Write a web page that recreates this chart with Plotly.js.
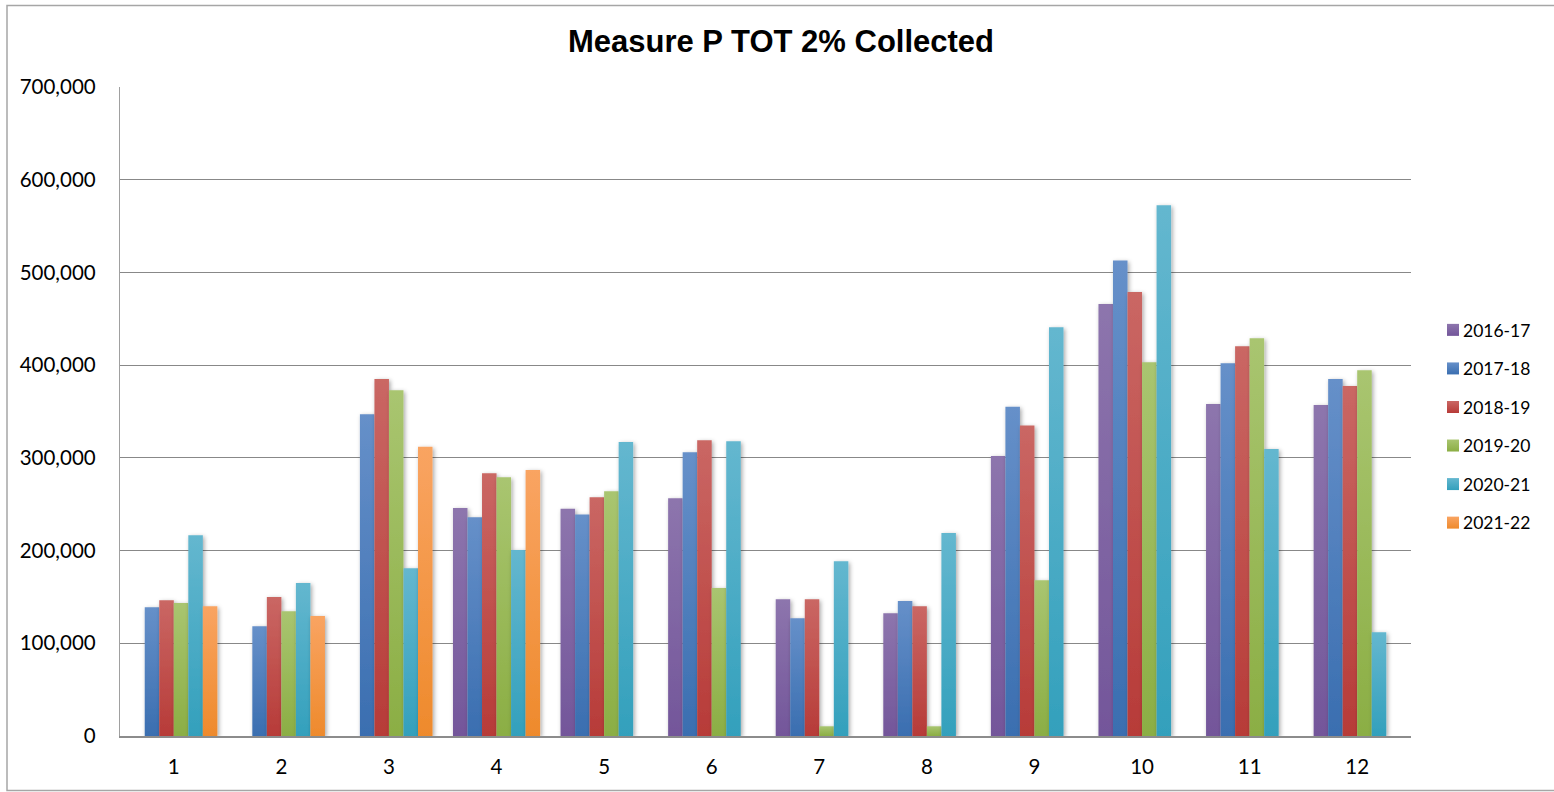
<!DOCTYPE html>
<html>
<head>
<meta charset="utf-8">
<script src="https://cdn.plot.ly/plotly-3.0.1.min.js"></script>
<style>
  html, body { margin: 0; padding: 0; background: #ffffff; }
  #chart { width: 1554px; height: 792px; }
</style>
</head>
<body>
<div id="chart"></div>
<script>
// ---- data ----
const months = ['1', '2', '3', '4', '5', '6', '7', '8', '9', '10', '11', '12'];
const seriesNames = ['2016-17', '2017-18', '2018-19', '2019-20', '2020-21', '2021-22'];
const fy1617 = [null, null, null, 246000, 245000, 256500, 147500, 132500, 302000, 466000, 358000, 357000];
const fy1718 = [139000, 118500, 347000, 236000, 239000, 306000, 127000, 145500, 355000, 513000, 402000, 385000];
const fy1819 = [146500, 150000, 385000, 283500, 257500, 319000, 147500, 140000, 335000, 479000, 420500, 377500];
const fy1920 = [143500, 134500, 373000, 279000, 264000, 159500, 10500, 10500, 168000, 403000, 429000, 394500];
const fy2021 = [216500, 165000, 181000, 200500, 317000, 318000, 188500, 219000, 441000, 572500, 309500, 112000];
const fy2122 = [140000, 129500, 312000, 287000, null, null, null, null, null, null, null, null];
const yTicks = [0, 100000, 200000, 300000, 400000, 500000, 600000, 700000];
const yTickLabels = ['0', '100,000', '200,000', '300,000', '400,000', '500,000', '600,000', '700,000'];

// ---- styles ----
const baseColors = ['#7F62A1', '#4A7EBB', '#C0504D', '#9BBB59', '#45A9C4', '#F6913C'];
const gradTop    = ['#8D75AD', '#6690C9', '#CA6764', '#A9C570', '#64B7CF', '#F9A462'];
const gradBot    = ['#73569A', '#3A6EB0', '#B73B38', '#8BAE44', '#33A0BC', '#EE8A2C'];

const allSeries = [fy1617, fy1718, fy1819, fy1920, fy2021, fy2122];

const traces = allSeries.map((vals, i) => ({
  type: 'bar',
  name: seriesNames[i],
  x: months,
  y: vals,
  legendgroup: 'g' + i,
  marker: { color: baseColors[i], line: { width: 0 } },
  hoverinfo: 'x+y+name'
}));

const L = 120, R = 1411, T = 87, B = 736;
const PW = R - L, PH = B - T;
const tickFont = { family: 'Lato, Carlito, Calibri, sans-serif', size: 20.5, color: '#000000' };

const layout = {
  width: 1554,
  height: 792,
  margin: { l: L, r: 1554 - R, t: T, b: 792 - B, pad: 0, autoexpand: false },
  paper_bgcolor: '#ffffff',
  plot_bgcolor: '#ffffff',
  barmode: 'group',
  bargap: 0.19,
  bargroupgap: 0,
  title: {
    text: '<b>Measure P TOT 2% Collected</b>',
    font: { family: 'Liberation Sans, Arial, sans-serif', size: 31, color: '#000000' },
    x: 781 / 1554,
    xref: 'container',
    xanchor: 'center',
    y: 1 - 41 / 792,
    yref: 'container',
    yanchor: 'middle'
  },
  font: tickFont,
  xaxis: {
    type: 'category',
    tickvals: months,
    ticktext: months,
    showline: true,
    linecolor: '#8c8c8c',
    linewidth: 1.5,
    showgrid: false,
    zeroline: false,
    ticks: '',
    ticklabelstandoff: 12,
    tickfont: tickFont,
    fixedrange: true
  },
  yaxis: {
    range: [0, 700000],
    tickvals: yTicks,
    ticktext: yTickLabels,
    showline: true,
    linecolor: '#a0a0a0',
    linewidth: 1.2,
    showgrid: true,
    gridcolor: '#888888',
    gridwidth: 1.2,
    zeroline: false,
    ticks: '',
    ticklabelstandoff: 19,
    tickfont: tickFont,
    fixedrange: true
  },
  showlegend: true,
  legend: {
    x: (1433 - L) / PW,
    xanchor: 'left',
    y: (B - 312) / PH,
    yanchor: 'top',
    traceorder: 'grouped',
    tracegroupgap: 12.8,
    itemwidth: 30,
    font: { family: 'Lato, Carlito, Calibri, sans-serif', size: 17.5, color: '#000000' },
    bgcolor: 'rgba(0,0,0,0)',
    borderwidth: 0
  },
  shapes: [
    {
      type: 'rect', xref: 'paper', yref: 'paper',
      x0: (7 - L) / PW, x1: (1570 - L) / PW,
      y0: (B - 790.5) / PH, y1: (B - 5.5) / PH,
      line: { color: '#a6a6a6', width: 1.5 },
      fillcolor: 'rgba(0,0,0,0)',
      layer: 'below'
    }
  ]
};

Plotly.newPlot('chart', traces, layout, { displayModeBar: false, staticPlot: true }).then(function (gd) {
  const NS = 'http://www.w3.org/2000/svg';
  const svg = gd.querySelector('svg.main-svg');
  let defs = svg.querySelector('defs');
  if (!defs) { defs = document.createElementNS(NS, 'defs'); svg.insertBefore(defs, svg.firstChild); }
  for (let i = 0; i < seriesNames.length; i++) {
    const g = document.createElementNS(NS, 'linearGradient');
    g.setAttribute('id', 'barGrad' + i);
    g.setAttribute('x1', '0'); g.setAttribute('y1', '0');
    g.setAttribute('x2', '0'); g.setAttribute('y2', '1');
    const s1 = document.createElementNS(NS, 'stop');
    s1.setAttribute('offset', '0'); s1.setAttribute('stop-color', gradTop[i]);
    const s2 = document.createElementNS(NS, 'stop');
    s2.setAttribute('offset', '1'); s2.setAttribute('stop-color', gradBot[i]);
    g.appendChild(s1); g.appendChild(s2);
    defs.appendChild(g);
  }
  const f = document.createElementNS(NS, 'filter');
  f.setAttribute('id', 'barShadow');
  f.setAttribute('x', '-30%'); f.setAttribute('y', '-5%');
  f.setAttribute('width', '160%'); f.setAttribute('height', '115%');
  const ds = document.createElementNS(NS, 'feDropShadow');
  ds.setAttribute('dx', '1.5'); ds.setAttribute('dy', '1.5');
  ds.setAttribute('stdDeviation', '2');
  ds.setAttribute('flood-color', '#000000');
  ds.setAttribute('flood-opacity', '0.35');
  f.appendChild(ds);
  defs.appendChild(f);

  gd.querySelectorAll('g.barlayer g.trace.bars').forEach(function (tg, i) {
    tg.setAttribute('filter', 'url(#barShadow)');
    tg.querySelectorAll('path').forEach(function (p) {
      p.style.fill = 'url(#barGrad' + i + ')';
    });
  });
  gd.querySelectorAll('g.legend g.traces').forEach(function (lg, i) {
    lg.querySelectorAll('.legendpoints path').forEach(function (p) {
      p.style.fill = 'url(#barGrad' + i + ')';
    });
    lg.querySelectorAll('text.legendtext').forEach(function (t) {
      t.setAttribute('x', '30');
    });
  });
});
</script>
</body>
</html>
